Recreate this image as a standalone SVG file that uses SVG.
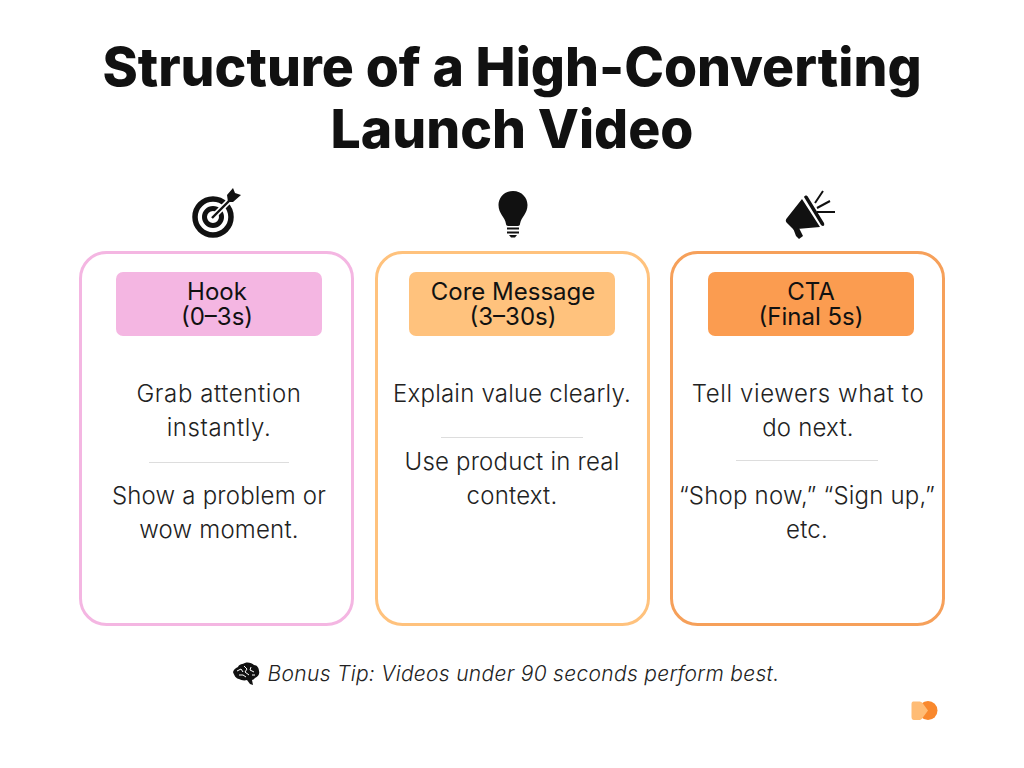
<svg xmlns="http://www.w3.org/2000/svg" width="1024" height="768" viewBox="0 0 1024 768">
<style>
text{font-family:Inter,"Liberation Sans",sans-serif;text-anchor:middle;fill:#111}
.t{font-size:53.500px;font-weight:800}
.h{font-size:24px;font-weight:400}
.b{font-size:24px;font-weight:300;fill:#222;letter-spacing:.2px}
.s{letter-spacing:.6px}
.card{fill:#fff;stroke-width:3}
.d{stroke:#ddd;stroke-width:1}
.i{fill:#111}
</style>
<rect width="1024" height="768" fill="#fff"/>
<g id="title"><text class="t" x="512" y="86">Structure of a High-Converting</text><text class="t" x="512" y="148">Launch Video</text></g>
<g id="icon-target">
<circle cx="213" cy="217" r="18" fill="none" stroke="#111" stroke-width="5.500"/>
<circle cx="213" cy="217" r="8.500" fill="none" stroke="#111" stroke-width="5"/>
<path d="M213 217L231 199" stroke="#fff" stroke-width="5.500"/>
<path d="M212 218L231 199" stroke="#111" stroke-width="2.400"/>
<path class="i" d="M227 195L233 188L235 193L241 195L233 202L228 202Z"/>
</g>
<g id="icon-bulb">
<path class="i" d="M513 191C504 191 498.500 198 498.500 205C498.500 214 505 217 506 224C506 225 507 226 508 226H518C519 226 520 225 520 224C521 217 527.500 214 527.500 205C527.500 198 522 191 513 191Z"/>
<path d="M507 228.500H519M507 232.500H519" stroke="#111" stroke-width="2"/>
<path class="i" d="M509 235H517L515 237.500H511Z"/>
</g>
<g id="icon-megaphone">
<path class="i" d="M802 199L820 227L797 229L795 231L787 223C785 221 786 219 787 218Z"/>
<path class="i" d="M804 197C805 195 807 195 808 197L824 223C825 226 823 227 821 225Z"/>
<path class="i" d="M793 228L799 228L803 236L799 239L796 236Z"/>
<path d="M815 203L823 191M817 208L830 201M817 212L835 212" stroke="#111" stroke-width="2"/>
</g>
<g id="card-hook">
<rect class="card" x="80.500" y="252.500" width="272" height="372" rx="26" stroke="#f4b6e2"/>
<rect x="116" y="272" width="206" height="64" rx="7" fill="#f4b6e2"/>
<text class="h" x="217" y="300">Hook</text><text class="h" x="217" y="325">(0–3s)</text>
<text class="b s" x="219" y="402">Grab attention</text><text class="b s" x="219" y="436">instantly.</text>
<line class="d" x1="149" y1="462.500" x2="289" y2="462.500"/>
<text class="b" x="219" y="504">Show a problem or</text><text class="b" x="219" y="538">wow moment.</text>
</g>
<g id="card-core">
<rect class="card" x="376.500" y="252.500" width="272" height="372" rx="26" stroke="#ffc27d"/>
<rect x="409" y="272" width="206" height="64" rx="7" fill="#ffc27d"/>
<text class="h" x="513" y="300">Core Message</text><text class="h" x="513" y="325">(3–30s)</text>
<text class="b" x="512" y="402">Explain value clearly.</text>
<line class="d" x1="441" y1="437.500" x2="583" y2="437.500"/>
<text class="b" x="512" y="470">Use product in real</text><text class="b" x="512" y="504">context.</text>
</g>
<g id="card-cta">
<rect class="card" x="671.500" y="252.500" width="272" height="372" rx="26" stroke="#f6a05a"/>
<rect x="708" y="272" width="206" height="64" rx="7" fill="#fb9c50"/>
<text class="h" x="811" y="300">CTA</text><text class="h" x="811" y="325">(Final 5s)</text>
<text class="b s" x="808" y="402">Tell viewers what to</text><text class="b" x="808" y="436">do next.</text>
<line class="d" x1="736" y1="460.500" x2="878" y2="460.500"/>
<text class="b" x="807" y="504">“Shop now,” “Sign up,”</text><text class="b" x="807" y="538">etc.</text>
</g>
<g id="tip">
<path class="i" d="M233 672C234 669 236 668 238 667C239 664 243 664 245 663C248 662 252 663 254 665C257 665 259 668 259 671C260 674 258 677 255 678C254 679 253 680 252 680L253 685L250 684L247 680C244 681 241 680 239 679C236 679 234 675 233 672Z"/>
<path d="M237 671L241 669L243 672M244 666L247 669L245 672L249 675M251 667L250 670L254 672M239 675L243 675L246 677M252 675L255 675" fill="none" stroke="#fff" stroke-width="1"/>
<text x="523.500" y="681" font-size="21" font-style="italic" font-weight="300" style="letter-spacing:.3px;fill:#222">Bonus Tip: Videos under 90 seconds perform best.</text>
</g>
<g id="logo">
<circle cx="928" cy="710.500" r="9.500" fill="#f9882d"/>
<path d="M911.500 704C911.500 702 912.500 701.500 914 701.500L919 701.500C920.500 701.500 921.500 702 922.500 703L928 710.500L922.500 718C921.500 719.500 920.500 720 919 720L914 720C912.500 720 911.500 719 911.500 717Z" fill="#ffbc75"/>
</g>
</svg>
